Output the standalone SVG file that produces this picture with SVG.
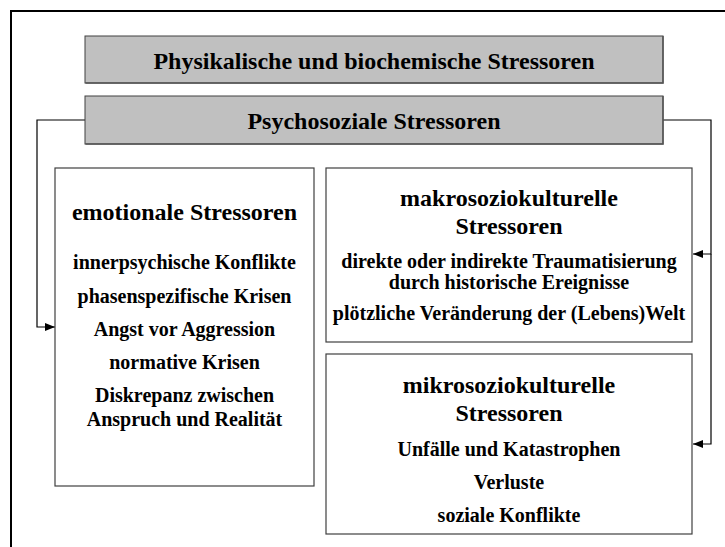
<svg xmlns="http://www.w3.org/2000/svg" width="725" height="547" viewBox="0 0 725 547">
<style>
.t{font-family:"Liberation Serif","Times New Roman",serif;font-weight:bold;fill:#000;text-anchor:middle}
.h{font-size:24px}
.i{font-size:20px}
.grey{fill:#c0c0c0;stroke:#404040;stroke-width:1}
.box{fill:#fff;stroke:#404040;stroke-width:1.2}
.sh{fill:none;stroke:#555;stroke-width:1.5}
.con{fill:none;stroke:#000;stroke-width:1.2}
</style>
<defs>
<marker id="arr" markerWidth="10" markerHeight="8" refX="10" refY="4" orient="auto" markerUnits="userSpaceOnUse">
<path d="M0,0 L10,4 L0,8 Z" fill="#000"/>
</marker>
</defs>
<rect x="0" y="0" width="725" height="547" fill="#fff"/>
<rect id="frame" x="11" y="11" width="800" height="600" fill="none" stroke="#000" stroke-width="2"/>
<g id="connectors">
<path class="con" d="M85,120 H37 V327 H55" marker-end="url(#arr)"/>
<path class="con" d="M663,120 H711 V254 H693" marker-end="url(#arr)"/>
<path class="con" d="M711,254 V444 H693" marker-end="url(#arr)"/>
</g>
<g id="physikalisch">
<rect class="grey" x="85" y="36" width="578" height="47"/>
<path class="sh" d="M85.5,83 H663 V36"/>
<text class="t h" x="374" y="69">Physikalische und biochemische Stressoren</text>
</g>
<g id="psychosozial">
<rect class="grey" x="85" y="96" width="578" height="48"/>
<path class="sh" d="M85.5,144 H663 V96"/>
<text class="t h" x="374" y="129">Psychosoziale Stressoren</text>
</g>
<g id="emotional">
<rect class="box" x="55" y="168" width="259" height="318"/>
<text class="t h" x="184.5" y="220">emotionale Stressoren</text>
<text class="t i" x="184.5" y="269">innerpsychische Konflikte</text>
<text class="t i" x="184.5" y="303">phasenspezifische Krisen</text>
<text class="t i" x="184.5" y="336">Angst vor Aggression</text>
<text class="t i" x="184.5" y="369">normative Krisen</text>
<text class="t i" x="184.5" y="402">Diskrepanz zwischen</text>
<text class="t i" x="184.5" y="426">Anspruch und Realität</text>
</g>
<g id="makro">
<rect class="box" x="326" y="168" width="366" height="174"/>
<text class="t h" x="509" y="206">makrosoziokulturelle</text>
<text class="t h" x="509" y="234">Stressoren</text>
<text class="t i" x="509" y="268">direkte oder indirekte Traumatisierung</text>
<text class="t i" x="509" y="289">durch historische Ereignisse</text>
<text class="t i" x="509" y="320">plötzliche Veränderung der (Lebens)Welt</text>
</g>
<g id="mikro">
<rect class="box" x="326" y="354" width="366" height="180"/>
<text class="t h" x="509" y="393">mikrosoziokulturelle</text>
<text class="t h" x="509" y="421">Stressoren</text>
<text class="t i" x="509" y="456">Unfälle und Katastrophen</text>
<text class="t i" x="509" y="489">Verluste</text>
<text class="t i" x="509" y="522">soziale Konflikte</text>
</g>
</svg>
